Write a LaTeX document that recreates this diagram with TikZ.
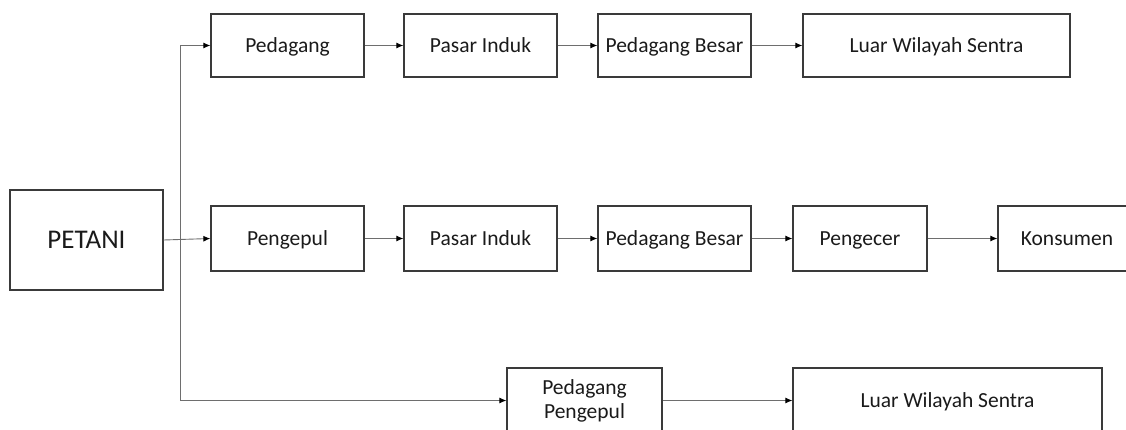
\documentclass[tikz,border=0pt]{standalone}
\usepackage{fontspec}
\setmainfont{Carlito}
\usetikzlibrary{arrows.meta}
\definecolor{boxline}{HTML}{3A3A3A}
\definecolor{arrline}{HTML}{6E6E6E}
\definecolor{txt}{HTML}{1A1A1A}
\begin{document}
\begin{tikzpicture}[x=1pt,y=-1pt,
  box/.style={draw=boxline,line width=1.3pt,rectangle,inner sep=0pt,text=txt,
    font=\fontsize{21.5}{23}\selectfont,align=center},
  one/.style={text height=16pt,text depth=3pt},
  conn/.style={draw=arrline,line width=0.9pt,-{Latex[length=7pt,width=6pt,color=black]}},
  plainline/.style={draw=arrline,line width=0.9pt}]
\useasboundingbox (0,0) rectangle (1126,429);
\clip (0,0) rectangle (1126,429);
% PETANI
\node[box,minimum width=153pt,minimum height=100pt,font=\fontsize{27}{30}\selectfont,text height=20pt,text depth=4pt] (pet) at (86.5,240) {PETANI};
% Row 1
\node[box,one,minimum width=153pt,minimum height=63pt] (a1) at (287.5,45.5) {Pedagang};
\node[box,one,minimum width=153pt,minimum height=63pt] (a2) at (480.5,45.5) {Pasar Induk};
\node[box,one,minimum width=153pt,minimum height=63pt] (a3) at (674.5,45.5) {Pedagang Besar};
\node[box,one,minimum width=267pt,minimum height=63pt] (a4) at (936.5,45.5) {Luar Wilayah Sentra};
% Row 2
\node[box,one,minimum width=153pt,minimum height=65pt] (b1) at (287.5,238.5) {Pengepul};
\node[box,one,minimum width=153pt,minimum height=65pt] (b2) at (480.5,238.5) {Pasar Induk};
\node[box,one,minimum width=153pt,minimum height=65pt] (b3) at (674.5,238.5) {Pedagang Besar};
\node[box,one,minimum width=134pt,minimum height=65pt] (b4) at (860,238.5) {Pengecer};
\node[box,one,minimum width=138pt,minimum height=65pt] (b5) at (1067,238.5) {Konsumen};
% Row 3
\node[box,minimum width=155pt,minimum height=65pt] (c1) at (584.5,400.5) {\raisebox{-3pt}{Pedagang}\\[1pt]\raisebox{-3pt}{Pengepul}};
\node[box,one,minimum width=309pt,minimum height=65pt] (c2) at (947.5,400.5) {Luar Wilayah Sentra};
% junction coordinates
\coordinate (jt) at (180,45.5);
\coordinate (jb) at (180,400.5);
% connectors
\draw[plainline] (jt) -- (jb);
\draw[conn] (jt) -- (a1.west);
\draw[conn] (jb) -- (c1.west);
\draw[conn] (pet.east) -- (b1.west);
\draw[conn] (a1.east) -- (a2.west);
\draw[conn] (a2.east) -- (a3.west);
\draw[conn] (a3.east) -- (a4.west);
\draw[conn] (b1.east) -- (b2.west);
\draw[conn] (b2.east) -- (b3.west);
\draw[conn] (b3.east) -- (b4.west);
\draw[conn] (b4.east) -- (b5.west);
\draw[conn] (c1.east) -- (c2.west);
\end{tikzpicture}
\end{document}
